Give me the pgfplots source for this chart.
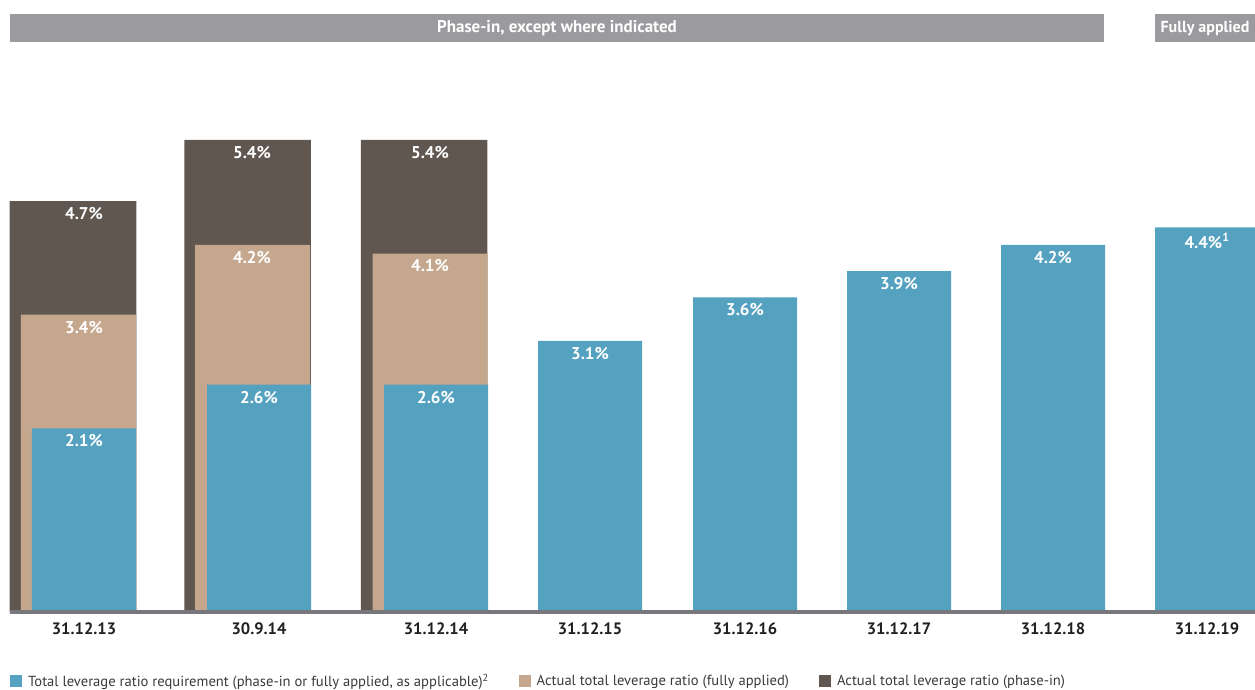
\documentclass[border=0pt]{standalone}
\usepackage{fontspec}
\setmainfont{PT Sans}
\usepackage{pgfplots}
\pgfplotsset{compat=1.18}
\definecolor{cblue}{HTML}{55A1C0}
\definecolor{ctan}{HTML}{C4A78D}
\definecolor{cdark}{HTML}{5F5750}
\definecolor{chead}{HTML}{9B9B9F}
\definecolor{cbase}{HTML}{78787C}
\definecolor{ctext}{HTML}{231F20}
\definecolor{clegtext}{HTML}{3A3A3A}
\begin{document}
\begin{tikzpicture}
\useasboundingbox (0,0) rectangle (1255pt,690pt);
\begin{axis}[
  at={(10pt,78pt)}, anchor=south west,
  scale only axis, width=1245pt, height=612pt,
  xmin=10, xmax=1255, ymin=0, ymax=7,
  clip=false,
  axis line style={draw=none},
  ytick=\empty,
  xtick={84,259,436,590,745,899,1053,1207},
  xticklabels={31.12.13,30.9.14,31.12.14,31.12.15,31.12.16,31.12.17,31.12.18,31.12.19},
  major tick length=0pt,
  xticklabel style={font=\fontsize{16.5}{18}\selectfont\bfseries, text=ctext, yshift=-7pt},
  legend columns=3, reverse legend,
  legend style={draw=none, fill=none, at={(axis description cs:0,0)}, anchor=north west,
    yshift=-60pt, xshift=0pt, font=\fontsize{14.6}{17}\selectfont, text=clegtext, inner sep=0pt,
    /tikz/every even column/.append style={column sep=28pt},
    /tikz/every odd column/.append style={column sep=4pt}},
]
\addplot[ybar, bar shift=0pt, bar width=126.5, fill=cdark, draw=none,
  legend image code/.code={\fill[cdark] (0pt,-6pt) rectangle (12pt,6pt);}]
  coordinates {(73,4.7) (247.5,5.4) (424,5.4)};
\addlegendentry{Actual total leverage ratio (phase-in)}
\addplot[ybar, bar shift=0pt, bar width=115, fill=ctan, draw=none,
  legend image code/.code={\fill[ctan] (0pt,-6pt) rectangle (12pt,6pt);}]
  coordinates {(78.5,3.4) (252.5,4.2) (430,4.1)};
\addlegendentry{Actual total leverage ratio (fully applied)}
\addplot[ybar, bar shift=0pt, bar width=104, fill=cblue, draw=none,
  legend image code/.code={\fill[cblue] (0pt,-6pt) rectangle (12pt,6pt);}]
  coordinates {(84,2.1) (259,2.6) (436,2.6) (590,3.1) (745,3.6) (899,3.9) (1053,4.2) (1207,4.4)};
\addlegendentry{Total leverage ratio requirement (phase-in or fully applied, as applicable)\textsuperscript{2}}
\addplot[forget plot, draw=none, mark=none, nodes near coords, point meta=explicit symbolic,
  nodes near coords style={anchor=north, text=white, font=\fontsize{17}{19}\selectfont\bfseries, inner sep=0pt, yshift=-6pt}]
  coordinates {(84,4.7)[4.7\%] (84,3.4)[3.4\%] (84,2.1)[2.1\%]
   (252,5.4)[5.4\%] (252,4.2)[4.2\%] (259,2.6)[2.6\%]
   (430,5.4)[5.4\%] (430,4.1)[4.1\%] (436,2.6)[2.6\%]
   (590,3.1)[3.1\%] (745,3.6)[3.6\%] (899,3.9)[3.9\%] (1053,4.2)[4.2\%]
   (1207,4.4)[4.4\%\textsuperscript{1}]};
\draw[cbase, line width=3.5pt] (axis cs:10,0) -- (axis cs:1255,0);
\end{axis}
\fill[chead] (10pt,648pt) rectangle (1104pt,676pt);
\node[text=white, font=\fontsize{17}{19}\selectfont\bfseries] at (557pt,662pt) {Phase-in, except where indicated};
\fill[chead] (1155pt,648pt) rectangle (1255pt,676pt);
\node[text=white, font=\fontsize{16}{18}\selectfont\bfseries] at (1205pt,662pt) {Fully applied};
\end{tikzpicture}
\end{document}
